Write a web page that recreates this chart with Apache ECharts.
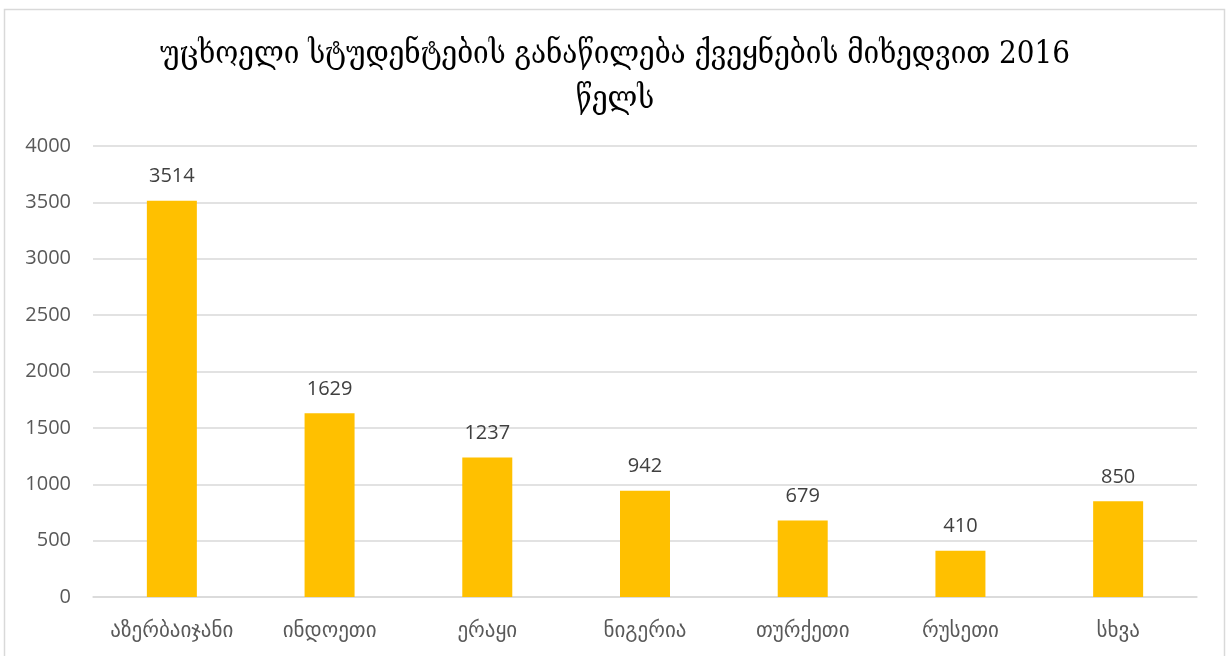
<!DOCTYPE html>
<html><head><meta charset="utf-8">
<script src="https://cdn.jsdelivr.net/npm/echarts@6/dist/echarts.min.js"></script>
<style>html,body{margin:0;padding:0;background:#fff}#c{width:1230px;height:656px}</style>
</head><body><div id="c"></div>
<script>
const categories = ['აზერბაიჯანი','ინდოეთი','ერაყი','ნიგერია','თურქეთი','რუსეთი','სხვა'];
const values = [3514, 1629, 1237, 942, 679, 410, 850];
const titleText = 'უცხოელი სტუდენტების განაწილება ქვეყნების მიხედვით 2016\nწელს';
const chart = echarts.init(document.getElementById('c'));
chart.setOption({
  animation: false,
  graphic: [{type:'rect', shape:{x:4.5,y:9.5,width:1220,height:660}, style:{fill:'none', stroke:'#d9d9d9', lineWidth:1.5}, silent:true}],
  title: {text: titleText, left: 'center', top: 27, textStyle:{fontFamily:'DejaVu Serif Condensed, DejaVu Serif', fontWeight:'normal', fontSize:31, color:'#000', lineHeight:45}},
  grid: {left: 93, right: 33, top: 146, bottom: 59, containLabel: false},
  xAxis: {type:'category', data: categories, axisLine:{lineStyle:{color:'#d9d9d9', width:1.5}}, axisTick:{show:false},
    axisLabel:{color:'#595959', fontSize:21, fontFamily:'DejaVu Sans', margin:24, interval:0}},
  yAxis: {type:'value', min:0, max:4000, interval:500, axisLine:{show:false}, axisTick:{show:false},
    splitLine:{lineStyle:{color:'#d9d9d9', width:1.5}},
    axisLabel:{color:'#595959', fontSize:20, fontFamily:'Open Sans, Liberation Sans', margin:22, formatter: v => String(v)}},
  series: [{type:'bar', data: values, barWidth:'31.7%', itemStyle:{color:'#FFC000'},
    label:{show:true, position:'top', distance:14, color:'#404040', fontSize:20, fontFamily:'Open Sans, Liberation Sans'}}]
});
</script></body></html>
